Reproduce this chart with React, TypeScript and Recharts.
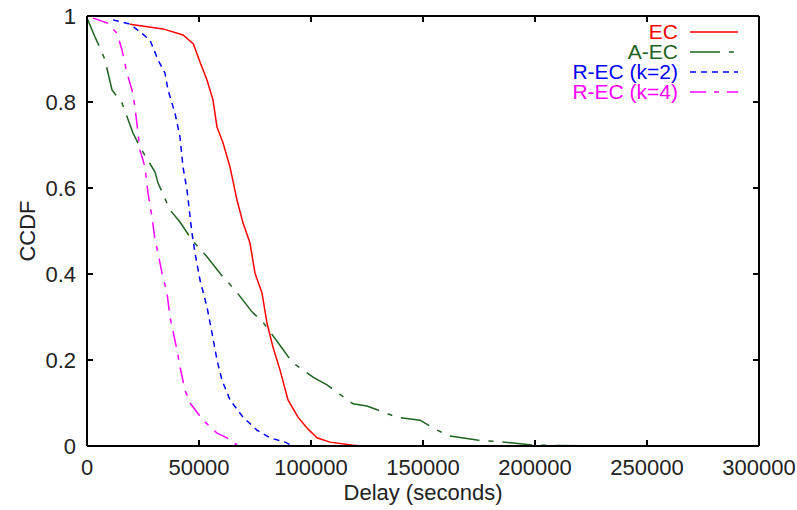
import React from 'react';
import { LineChart, Line, XAxis, YAxis, ReferenceLine, Legend } from 'recharts';

const X_TICKS = [0, 50000, 100000, 150000, 200000, 250000, 300000];
const Y_TICKS = [0, 0.2, 0.4, 0.6, 0.8, 1];
const Y_TICK_LABELS = ['0', '0.2', '0.4', '0.6', '0.8', '1'];

const ecDelay = [19195, 33926, 42854, 47500, 50443, 53568, 56246, 58032, 60710, 63835, 66960, 69638, 72763, 74995, 78120, 80352, 83030, 86155, 89726, 94190, 98208, 102672, 108475, 118742, 122760];
const ecCcdf = [0.981, 0.97, 0.956, 0.935, 0.893, 0.851, 0.805, 0.742, 0.705, 0.649, 0.572, 0.519, 0.472, 0.402, 0.356, 0.286, 0.23, 0.177, 0.107, 0.067, 0.042, 0.019, 0.009, 0.002, 0];

const aecDelay = [0, 3571, 5803, 8035, 11160, 15624, 20534, 23659, 30355, 31694, 37051, 41515, 46872, 53568, 60710, 66067, 73656, 78566, 87048, 91512, 100886, 107136, 118742, 124992, 138384, 148651, 156240, 162043, 174096, 190166, 199094, 232128];
const aecCcdf = [0.995, 0.951, 0.926, 0.898, 0.828, 0.798, 0.728, 0.695, 0.637, 0.612, 0.549, 0.521, 0.479, 0.44, 0.393, 0.363, 0.312, 0.288, 0.228, 0.195, 0.16, 0.142, 0.098, 0.093, 0.067, 0.06, 0.037, 0.023, 0.014, 0.007, 0.002, 0];

const rec2Delay = [11606, 19195, 23659, 28123, 31694, 34819, 36158, 39283, 41515, 42854, 44640, 46872, 48211, 50443, 53568, 55800, 58032, 60264, 63835, 69638, 75888, 81691, 88387, 91958];
const rec2Ccdf = [0.991, 0.981, 0.963, 0.944, 0.898, 0.867, 0.828, 0.774, 0.719, 0.649, 0.595, 0.495, 0.449, 0.386, 0.323, 0.263, 0.2, 0.153, 0.107, 0.067, 0.037, 0.019, 0.009, 0];

const rec4Delay = [2678, 8928, 13392, 15624, 17856, 20088, 21427, 22766, 23659, 25891, 27230, 29016, 30355, 31694, 33480, 35712, 37049, 40176, 41515, 43747, 45979, 51782, 58032, 62496, 66960];
const rec4Ccdf = [0.995, 0.984, 0.96, 0.921, 0.867, 0.828, 0.788, 0.728, 0.688, 0.649, 0.588, 0.533, 0.479, 0.449, 0.402, 0.356, 0.3, 0.223, 0.184, 0.13, 0.1, 0.06, 0.03, 0.019, 0.002];

const zip = (xs: number[], ys: number[]) => xs.map((x, i) => ({ x, y: ys[i] }));

const SERIES = [
  { name: 'EC', color: '#ff0000', dash: undefined as string | undefined, data: zip(ecDelay, ecCcdf) },
  { name: 'A-EC', color: '#1e641e', dash: '30 9 5 9', data: zip(aecDelay, aecCcdf) },
  { name: 'R-EC (k=2)', color: '#0000ff', dash: '6 5', data: zip(rec2Delay, rec2Ccdf) },
  { name: 'R-EC (k=4)', color: '#ff00ff', dash: '16 8 5 8', data: zip(rec4Delay, rec4Ccdf) },
];

const FONT = '"Liberation Sans", Arial, sans-serif';
const TXT = '#222';

const BottomTick = (props: any) => {
  const { x, y, payload } = props;
  return (
    <g>
      <line x1={x} x2={x} y1={y} y2={y - 6} stroke="#000" strokeWidth={2} />
      <line x1={x} x2={x} y1={16} y2={22} stroke="#000" strokeWidth={2} />
      <text x={x} y={y + 29} textAnchor="middle" fontSize={22} fontFamily={FONT} fill={TXT}>{payload.value}</text>
    </g>
  );
};
const LeftTick = (props: any) => {
  const { x, y, payload } = props;
  const idx = Y_TICKS.indexOf(payload.value);
  return (
    <g>
      <line x1={x} x2={x + 6} y1={y} y2={y} stroke="#000" strokeWidth={2} />
      <line x1={759} x2={753} y1={y} y2={y} stroke="#000" strokeWidth={2} />
      <text x={x - 11} y={y + 8} textAnchor="end" fontSize={22} fontFamily={FONT} fill={TXT}>{idx >= 0 ? Y_TICK_LABELS[idx] : payload.value}</text>
    </g>
  );
};

const YLabel = (props: any) => {
  const vb = props.viewBox;
  const cx = vb.x + 27;
  const cy = vb.y + vb.height / 2;
  return (
    <text x={cx} y={cy} transform={`rotate(-90 ${cx} ${cy})`} textAnchor="middle" dominantBaseline="central" fontSize={22} fontFamily={FONT} fill={TXT}>CCDF</text>
  );
};
const XLabel = (props: any) => {
  const vb = props.viewBox;
  return (
    <text x={vb.x + vb.width / 2} y={vb.y + 54} textAnchor="middle" fontSize={22} fontFamily={FONT} fill={TXT}>Delay (seconds)</text>
  );
};

const LegendContent = () => (
  <div style={{ fontFamily: FONT, fontSize: 21, lineHeight: '20px' }}>
    {SERIES.map((s) => (
      <div key={s.name} style={{ display: 'flex', alignItems: 'center', height: 20, overflow: 'visible' }}>
        <span style={{ color: s.color, width: 140, textAlign: 'right', whiteSpace: 'nowrap' }}>{s.name}</span>
        <svg width={62} height={20} style={{ display: 'block' }}>
          <line x1={12} x2={60} y1={10} y2={10} stroke={s.color} strokeWidth={1.5} strokeDasharray={s.dash} />
        </svg>
      </div>
    ))}
  </div>
);

export default function App() {
  return (
    <div style={{ position: 'absolute', left: 0, top: 0, width: 797, height: 510, background: '#fff' }}>
      <LineChart width={797} height={510} margin={{ top: 16, right: 38, bottom: 0, left: 0 }}>
        <XAxis xAxisId="b" dataKey="x" type="number" domain={[0, 300000]} ticks={X_TICKS} allowDataOverflow
          height={64} tickSize={0} tickMargin={0} tickLine={false} interval={0}
          axisLine={{ stroke: '#000', strokeWidth: 2 }} tick={<BottomTick />} label={<XLabel />} />
        <YAxis yAxisId="l" type="number" domain={[0, 1]} ticks={Y_TICKS} width={87} tickSize={0} tickMargin={0}
          tickLine={false} interval={0} axisLine={{ stroke: '#000', strokeWidth: 2 }} tick={<LeftTick />} label={<YLabel />} />
        <ReferenceLine xAxisId="b" yAxisId="l" y={1} stroke="#000" strokeWidth={2} />
        <ReferenceLine xAxisId="b" yAxisId="l" x={300000} stroke="#000" strokeWidth={2} />
        {SERIES.map((s) => (
          <Line key={s.name} xAxisId="b" yAxisId="l" data={s.data} dataKey="y" name={s.name} type="linear"
            stroke={s.color} strokeWidth={1.5} strokeDasharray={s.dash} dot={false} activeDot={false}
            isAnimationActive={false} />
        ))}
        <Legend layout="vertical" align="center" verticalAlign="middle" content={<LegendContent />}
          wrapperStyle={{ position: 'absolute', top: 22, left: 538, width: 210, height: 80 }} />
      </LineChart>
    </div>
  );
}
